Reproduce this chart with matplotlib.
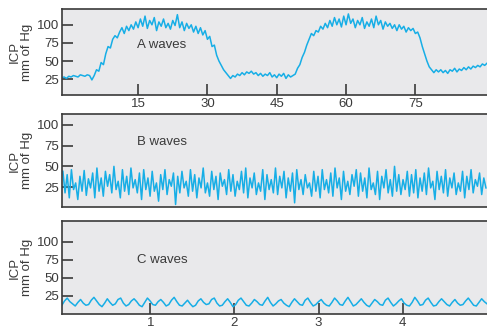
import numpy as np
import matplotlib
matplotlib.use('Agg')
import matplotlib.pyplot as plt

plt.rcParams['font.family'] = ['Liberation Sans', 'DejaVu Sans']

# A waves: minutes, one sample every 0.5 min from -1.5
a_start, a_step = -1.5, 0.5
a_icp = [
    27, 28, 26, 29, 28, 30, 29, 28, 31, 30, 29, 31, 30,
    24, 30, 38, 36, 48, 45, 60, 70, 68, 80, 85, 82,
    90, 96, 88, 98, 92, 100, 94, 104, 96, 108, 98, 112, 95, 106, 100, 110, 92, 104, 98,
    108, 96, 102, 94, 106, 99, 114, 96, 104, 92, 102, 95, 100, 90, 98, 88, 96, 86,
    92, 80, 84, 70, 72, 58, 50, 44, 38, 34, 30, 26, 30,
    28, 32, 30, 34, 31, 35, 33, 36, 32, 34, 30, 33, 29, 32, 30, 34, 28, 31, 27, 32, 29, 33, 26, 31, 28, 30,
    32, 40, 45, 55, 62, 72, 80, 88, 85, 92,
    90, 98, 94, 102, 96, 106, 98, 110, 100, 108, 97, 112, 100, 115, 102, 108, 96, 106, 100, 110, 95, 104,
    98, 108, 96, 112, 100, 106, 94, 104, 98, 102, 95, 100, 92, 100, 94, 98, 90, 96, 92, 95, 88,
    90, 82, 70, 60, 50, 42, 38, 34, 38,
    35, 38, 34, 37, 33, 38, 36, 40, 35, 39, 37, 41, 38, 42, 39, 43, 41, 44, 42, 46, 44, 47,
]
a_ticks = [15, 30, 45, 60, 75]

# B waves
b_icp = [
    44, 18, 40, 12, 46, 22, 30, 10, 38, 20, 45, 15, 35, 24, 42, 12, 48, 20, 36, 14,
    44, 26, 40, 18, 50, 22, 32, 12, 46, 20, 38, 16, 48, 24, 34, 18, 42, 10, 46, 22,
    36, 14, 44, 20, 30, 8, 40, 22, 46, 16, 34, 26, 42, 4, 38, 18, 44, 24, 32, 14,
    46, 20, 40, 12, 36, 24, 48, 18, 30, 14, 44, 22, 38, 10, 42, 26, 34, 16, 46, 20,
    40, 14, 32, 22, 44, 18, 48, 12, 36, 24, 42, 16, 30, 20, 46, 10, 40, 22, 34, 18,
    48, 16, 38, 24, 44, 12, 36, 20, 42, 6, 46, 22, 34, 16, 40, 24, 30, 14, 44, 20,
    38, 12, 46, 22, 34, 18, 42, 14, 48, 24, 36, 10, 44, 20, 32, 16, 40, 26, 46, 14,
    42, 20, 36, 12, 48, 22, 30, 16, 44, 10, 38, 24, 46, 18, 34, 14, 50, 20, 40, 16,
    34, 22, 44, 14, 40, 18, 46, 12, 36, 20, 42, 16, 48, 24, 32, 10, 44, 22, 38, 18,
    46, 14, 36, 24, 42, 16, 30, 20, 44, 12, 38, 22, 46, 18, 34, 26, 42, 16, 36, 24,
]

# C waves
c_icp = [
    12, 18, 22, 17, 14, 11, 16, 20, 15, 12, 13, 19, 23, 18, 13, 10, 15, 21, 16, 12,
    14, 20, 22, 15, 11, 13, 18, 21, 17, 12, 10, 16, 22, 18, 13, 12, 17, 20, 16, 11,
    13, 19, 23, 17, 12, 11, 15, 19, 14, 10, 12, 18, 21, 16, 13, 14, 20, 22, 15, 11,
    12, 17, 21, 16, 10, 13, 19, 22, 17, 12, 11, 15, 20, 17, 13, 12, 18, 23, 16, 11,
    14, 18, 20, 15, 12, 10, 16, 21, 17, 13, 12, 19, 22, 16, 11, 13, 17, 20, 15, 12,
    11, 16, 22, 18, 13, 12, 18, 23, 17, 11, 13, 17, 21, 16, 12, 10, 15, 20, 17, 13,
    12, 19, 22, 16, 11, 14, 18, 21, 15, 12, 11, 16, 23, 18, 12, 13, 19, 22, 16, 11,
    12, 17, 21, 17, 13, 11, 16, 20, 15, 12, 13, 18, 22, 17, 12, 11, 16, 21, 17, 14,
]
c_ticks = [1, 2, 3, 4]

y_ticks = [25, 50, 75, 100]
line_col = '#17aee6'
bg = '#e9e9eb'
dark = '#3a3a3a'

fig = plt.figure(figsize=(4.87, 3.28), dpi=100)
ax1 = fig.add_axes([0.127, 0.710, 0.873, 0.263])
ax2 = fig.add_axes([0.127, 0.369, 0.873, 0.283])
ax3 = fig.add_axes([0.127, 0.043, 0.873, 0.283])

t_a = a_start + a_step * np.arange(len(a_icp))
ax1.plot(t_a, a_icp, color=line_col, lw=1.1)
ax1.set_xlim(-1.5, 90.5)
ax1.set_ylim(3, 122)
ax1.set_xticks(a_ticks)

ax2.plot(np.arange(len(b_icp)), b_icp, color=line_col, lw=1.1)
ax2.set_xlim(-0.5, len(b_icp) - 0.5)
ax2.set_ylim(1, 113)
ax2.set_xticks([])

t_c = np.linspace(-0.05, 5.0, len(c_icp))
ax3.plot(t_c, c_icp, color=line_col, lw=1.1)
ax3.set_xlim(-0.05, 5.0)
ax3.set_ylim(0, 129)
ax3.set_xticks(c_ticks)

for ax, name, ty in [(ax1, 'A waves', 0.58), (ax2, 'B waves', 0.70), (ax3, 'C waves', 0.58)]:
    ax.set_facecolor(bg)
    ax.set_yticks(y_ticks)
    ax.tick_params(direction='in', length=8, width=1.2, colors=dark, labelsize=9.5, pad=2)
    for s in ['top', 'left', 'bottom']:
        ax.spines[s].set_color(dark)
        ax.spines[s].set_linewidth(1.2)
    ax.spines['right'].set_visible(False)
    ax.set_ylabel('ICP\nmm of Hg', fontsize=9.5, color=dark, linespacing=1.0, labelpad=3)
    ax.text(0.176, ty, name, transform=ax.transAxes, fontsize=9.5, color=dark, va='center')

fig.savefig('out.png', dpi=100)
